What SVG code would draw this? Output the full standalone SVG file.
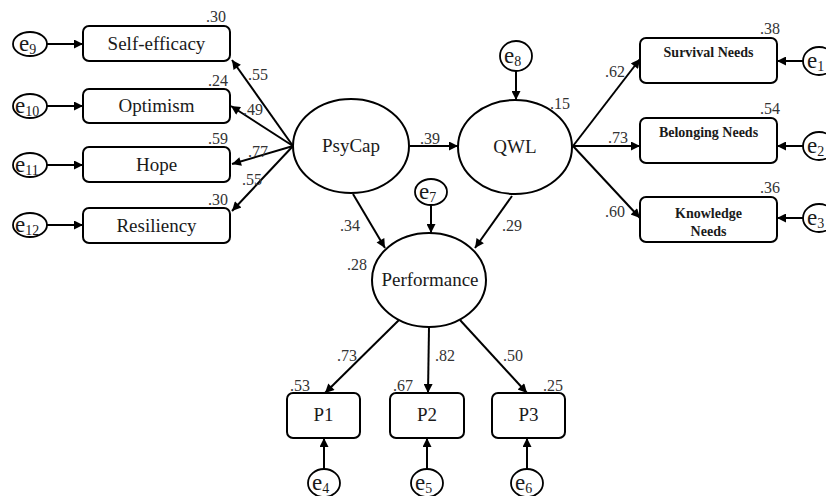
<svg xmlns="http://www.w3.org/2000/svg" width="826" height="496" viewBox="0 0 826 496">
<defs>
<marker id="ah" viewBox="0 0 10 10" refX="10" refY="5" markerWidth="11" markerHeight="9" orient="auto" markerUnits="userSpaceOnUse"><path d="M0,0 L10,5 L0,10 z" fill="#000"/></marker>
<style>
.box{fill:#fff;stroke:#000;stroke-width:2}
.lat{fill:#fff;stroke:#000;stroke-width:2}
.err{fill:#fff;stroke:#000;stroke-width:1.8}
.t{font-family:"Liberation Serif","Times New Roman",serif;font-size:19px;fill:#1a1a1a}
.tb{font-family:"Liberation Serif","Times New Roman",serif;font-size:14px;font-weight:bold;fill:#1a1a1a}
.n{font-family:"Liberation Serif","Times New Roman",serif;font-size:16px;fill:#333}
.e{font-family:"Liberation Serif","Times New Roman",serif;font-size:23px;fill:#1a1a1a}
.s{font-size:14px}
.c line{stroke:#000;stroke-width:2;marker-end:url(#ah)}
</style>
</defs>
<rect width="826" height="496" fill="#fff"/>
<g class="c" id="connectors">
<line x1="47" y1="44" x2="83" y2="44"/>
<line x1="47" y1="106" x2="83" y2="106"/>
<line x1="47" y1="165" x2="83" y2="165"/>
<line x1="47" y1="225" x2="83" y2="225"/>
<line x1="293" y1="146" x2="232" y2="60"/>
<line x1="293" y1="146" x2="231" y2="106"/>
<line x1="293" y1="146" x2="232" y2="164"/>
<line x1="293" y1="146" x2="232" y2="211"/>
<line x1="410" y1="146" x2="458" y2="146"/>
<line x1="516" y1="71" x2="516" y2="100"/>
<line x1="573" y1="146" x2="640" y2="59"/>
<line x1="573" y1="146" x2="640" y2="146"/>
<line x1="573" y1="146" x2="640" y2="218"/>
<line x1="803" y1="61" x2="777" y2="61"/>
<line x1="803" y1="146" x2="777" y2="146"/>
<line x1="803" y1="218" x2="777" y2="218"/>
<line x1="431" y1="205" x2="431" y2="233"/>
<line x1="353" y1="194" x2="385" y2="248"/>
<line x1="512" y1="196" x2="475" y2="248"/>
<line x1="399" y1="320" x2="325" y2="393"/>
<line x1="429" y1="327" x2="428" y2="393"/>
<line x1="460" y1="320" x2="527" y2="393"/>
<line x1="324" y1="469" x2="324" y2="438"/>
<line x1="427" y1="469" x2="427" y2="438"/>
<line x1="527" y1="469" x2="527" y2="438"/>
</g>
<g id="e9"><ellipse class="err" cx="30" cy="44" rx="17" ry="12"/><text class="e" x="19" y="51">e<tspan class="s" dy="3">9</tspan></text></g>
<g id="e10"><ellipse class="err" cx="30" cy="106" rx="17" ry="12"/><text class="e" x="15" y="113">e<tspan class="s" dy="3">10</tspan></text></g>
<g id="e11"><ellipse class="err" cx="30" cy="165" rx="17" ry="12"/><text class="e" x="15" y="172">e<tspan class="s" dy="3">11</tspan></text></g>
<g id="e12"><ellipse class="err" cx="30" cy="225" rx="17" ry="12"/><text class="e" x="15" y="232">e<tspan class="s" dy="3">12</tspan></text></g>
<g id="self-efficacy"><rect class="box" x="83" y="26" width="147" height="35" rx="6"/><text class="t" x="156.5" y="50" text-anchor="middle">Self-efficacy</text><text class="n" x="206" y="22">.30</text></g>
<g id="optimism"><rect class="box" x="83" y="89" width="147" height="34" rx="6"/><text class="t" x="156.5" y="112" text-anchor="middle">Optimism</text><text class="n" x="208" y="86">.24</text></g>
<g id="hope"><rect class="box" x="83" y="147" width="147" height="35" rx="6"/><text class="t" x="156.5" y="171" text-anchor="middle">Hope</text><text class="n" x="208" y="144">.59</text></g>
<g id="resiliency"><rect class="box" x="83" y="208" width="147" height="35" rx="6"/><text class="t" x="156.5" y="232" text-anchor="middle">Resiliency</text><text class="n" x="208" y="205">.30</text></g>
<g id="psycap"><ellipse class="lat" cx="351" cy="146" rx="58" ry="47"/><text class="t" x="351" y="152" text-anchor="middle">PsyCap</text></g>
<g id="qwl"><ellipse class="lat" cx="515" cy="147" rx="57" ry="47"/><text class="t" x="515" y="153" text-anchor="middle">QWL</text><text class="n" x="550" y="109">.15</text></g>
<g id="e8"><ellipse class="err" cx="516" cy="56" rx="16" ry="15"/><text class="e" x="504" y="63">e<tspan class="s" dy="3">8</tspan></text></g>
<g id="survival"><rect class="box" x="640" y="38" width="137" height="45" rx="6"/><text class="tb" x="708.5" y="57" text-anchor="middle">Survival Needs</text><text class="n" x="760" y="34">.38</text></g>
<g id="belonging"><rect class="box" x="640" y="118" width="137" height="45" rx="6"/><text class="tb" x="708.5" y="137" text-anchor="middle">Belonging Needs</text><text class="n" x="760" y="114">.54</text></g>
<g id="knowledge"><rect class="box" x="640" y="197" width="137" height="45" rx="6"/><text class="tb" x="708.5" y="218" text-anchor="middle">Knowledge</text><text class="tb" x="708.5" y="236" text-anchor="middle">Needs</text><text class="n" x="760" y="193">.36</text></g>
<g id="e1"><ellipse class="err" cx="819" cy="61" rx="16" ry="14"/><text class="e" x="807" y="68">e<tspan class="s" dy="3">1</tspan></text></g>
<g id="e2"><ellipse class="err" cx="819" cy="146" rx="16" ry="14"/><text class="e" x="807" y="153">e<tspan class="s" dy="3">2</tspan></text></g>
<g id="e3"><ellipse class="err" cx="819" cy="218" rx="16" ry="14"/><text class="e" x="807" y="225">e<tspan class="s" dy="3">3</tspan></text></g>
<g id="e7"><ellipse class="err" cx="431" cy="192" rx="16" ry="13"/><text class="e" x="419" y="199">e<tspan class="s" dy="3">7</tspan></text></g>
<g id="performance"><ellipse class="lat" cx="429" cy="280" rx="57" ry="47"/><text class="t" x="430" y="286" text-anchor="middle">Performance</text><text class="n" x="347" y="270">.28</text></g>
<g id="p1"><rect class="box" x="287" y="393" width="73" height="45" rx="6"/><text class="t" x="323.5" y="421" text-anchor="middle">P1</text><text class="n" x="290" y="391">.53</text></g>
<g id="p2"><rect class="box" x="390" y="393" width="74" height="45" rx="6"/><text class="t" x="427" y="421" text-anchor="middle">P2</text><text class="n" x="393" y="391">.67</text></g>
<g id="p3"><rect class="box" x="492" y="393" width="73" height="45" rx="6"/><text class="t" x="528.5" y="421" text-anchor="middle">P3</text><text class="n" x="543" y="391">.25</text></g>
<g id="e4"><ellipse class="err" cx="324" cy="483" rx="16" ry="14"/><text class="e" x="312" y="490">e<tspan class="s" dy="3">4</tspan></text></g>
<g id="e5"><ellipse class="err" cx="427" cy="483" rx="16" ry="14"/><text class="e" x="415" y="490">e<tspan class="s" dy="3">5</tspan></text></g>
<g id="e6"><ellipse class="err" cx="527" cy="483" rx="16" ry="14"/><text class="e" x="515" y="490">e<tspan class="s" dy="3">6</tspan></text></g>
<g id="path-labels">
<text class="n" x="248" y="80">.55</text>
<text class="n" x="243" y="115">.49</text>
<text class="n" x="248" y="157">.77</text>
<text class="n" x="242" y="185">.55</text>
<text class="n" x="420" y="144">.39</text>
<text class="n" x="605" y="77">.62</text>
<text class="n" x="608" y="143">.73</text>
<text class="n" x="605" y="217">.60</text>
<text class="n" x="340" y="231">.34</text>
<text class="n" x="502" y="231">.29</text>
<text class="n" x="337" y="361">.73</text>
<text class="n" x="435" y="361">.82</text>
<text class="n" x="503" y="361">.50</text>
</g>
</svg>
